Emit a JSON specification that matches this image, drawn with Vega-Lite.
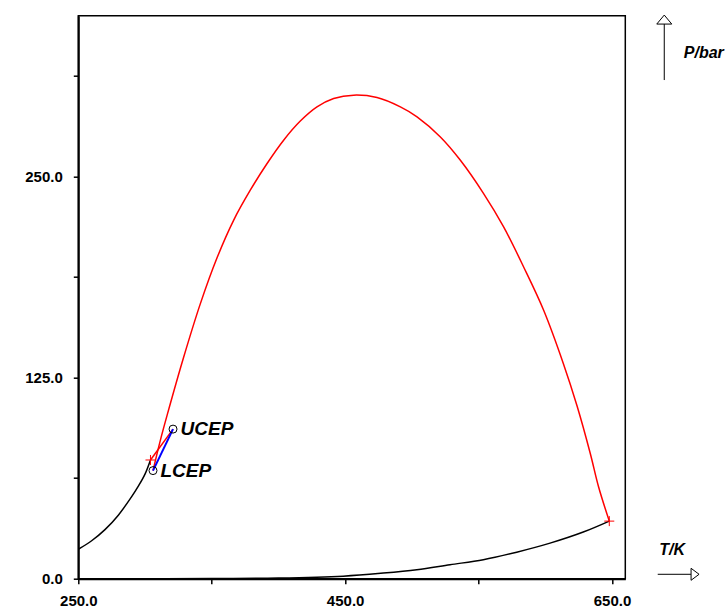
{
  "$schema": "https://vega.github.io/schema/vega-lite/v6.json",
  "width": 547,
  "height": 563,
  "autosize": {"type": "none"},
  "padding": {"left": 78.3, "top": 15.7, "right": 100.7, "bottom": 33.3},
  "background": "white",
  "config": {
    "view": {"stroke": "black", "strokeWidth": 1.5},
    "font": "Liberation Sans",
    "axis": {
      "grid": false,
      "domainColor": "black",
      "domainWidth": 2,
      "tickColor": "black",
      "tickWidth": 1.5,
      "tickSize": 5,
      "labelFont": "Liberation Sans",
      "labelFontSize": 15,
      "labelFontWeight": "bold",
      "labelColor": "black",
      "labelOverlap": false,
      "labelFlush": false,
      "titleFont": "Liberation Sans",
      "titleFontSize": 16,
      "titleFontWeight": "bold",
      "titleFontStyle": "italic",
      "titleColor": "black"
    }
  },
  "datasets": {
    "curves": [
      {"series": "vapour pressure 1", "T": 250, "P": 18.3},
      {"series": "vapour pressure 1", "T": 260, "P": 23.6},
      {"series": "vapour pressure 1", "T": 270, "P": 30.5},
      {"series": "vapour pressure 1", "T": 280, "P": 39.5},
      {"series": "vapour pressure 1", "T": 290, "P": 51.0},
      {"series": "vapour pressure 1", "T": 295, "P": 57.5},
      {"series": "vapour pressure 1", "T": 300, "P": 65.0},
      {"series": "vapour pressure 1", "T": 304.1, "P": 73.8},
      {"series": "vapour pressure 2", "T": 250, "P": 0.0},
      {"series": "vapour pressure 2", "T": 300, "P": 0.01},
      {"series": "vapour pressure 2", "T": 350, "P": 0.07},
      {"series": "vapour pressure 2", "T": 400, "P": 0.4},
      {"series": "vapour pressure 2", "T": 448.6, "P": 1.6},
      {"series": "vapour pressure 2", "T": 478.6, "P": 3.5},
      {"series": "vapour pressure 2", "T": 503.7, "P": 5.6},
      {"series": "vapour pressure 2", "T": 528.6, "P": 8.7},
      {"series": "vapour pressure 2", "T": 553.6, "P": 11.8},
      {"series": "vapour pressure 2", "T": 578.6, "P": 16.5},
      {"series": "vapour pressure 2", "T": 603.6, "P": 22.1},
      {"series": "vapour pressure 2", "T": 628.5, "P": 29.0},
      {"series": "vapour pressure 2", "T": 648.0, "P": 35.8},
      {"series": "critical line 2", "T": 306.0, "P": 67.2},
      {"series": "critical line 2", "T": 311.5, "P": 86.0},
      {"series": "critical line 2", "T": 316.9, "P": 102.6},
      {"series": "critical line 2", "T": 328.9, "P": 137.5},
      {"series": "critical line 2", "T": 341.5, "P": 171.0},
      {"series": "critical line 2", "T": 354.0, "P": 199.5},
      {"series": "critical line 2", "T": 366.4, "P": 222.8},
      {"series": "critical line 2", "T": 378.9, "P": 241.5},
      {"series": "critical line 2", "T": 391.5, "P": 258.1},
      {"series": "critical line 2", "T": 403.9, "P": 272.6},
      {"series": "critical line 2", "T": 416.4, "P": 284.5},
      {"series": "critical line 2", "T": 428.9, "P": 293.3},
      {"series": "critical line 2", "T": 441.4, "P": 298.5},
      {"series": "critical line 2", "T": 456.4, "P": 300.6},
      {"series": "critical line 2", "T": 473.9, "P": 299.1},
      {"series": "critical line 2", "T": 491.4, "P": 293.3},
      {"series": "critical line 2", "T": 503.9, "P": 287.1},
      {"series": "critical line 2", "T": 521.4, "P": 274.6},
      {"series": "critical line 2", "T": 536.4, "P": 260.1},
      {"series": "critical line 2", "T": 553.8, "P": 239.4},
      {"series": "critical line 2", "T": 568.8, "P": 218.7},
      {"series": "critical line 2", "T": 583.8, "P": 193.8},
      {"series": "critical line 2", "T": 598.8, "P": 166.9},
      {"series": "critical line 2", "T": 613.6, "P": 133.7},
      {"series": "critical line 2", "T": 623.8, "P": 107.5},
      {"series": "critical line 2", "T": 633.8, "P": 77.7},
      {"series": "critical line 2", "T": 640.0, "P": 57.0},
      {"series": "critical line 2", "T": 648.0, "P": 35.8},
      {"series": "critical line 1", "T": 304.1, "P": 73.8},
      {"series": "critical line 1", "T": 321.0, "P": 93.0},
      {"series": "three-phase line", "T": 306.0, "P": 67.2},
      {"series": "three-phase line", "T": 321.0, "P": 93.0}
    ],
    "points": [
      {"type": "critical point", "T": 304.1, "P": 73.8, "label": ""},
      {"type": "critical point", "T": 648.0, "P": 35.8, "label": ""},
      {"type": "end point", "T": 321.0, "P": 93.0, "label": "UCEP"},
      {"type": "end point", "T": 306.0, "P": 67.2, "label": "LCEP"}
    ],
    "arrows": [
      {"dir": "up", "T": 689.2, "P": 310.0, "T2": 689.2, "P2": 344.8},
      {"dir": "right", "T": 684.3, "P": 2.74, "T2": 709.3, "P2": 2.74}
    ]
  },
  "encoding": {
    "x": {
      "field": "T",
      "type": "quantitative",
      "scale": {"domain": [250, 660], "nice": false, "zero": false},
      "axis": {
        "values": [250, 350, 450, 550, 650],
        "labelExpr": "datum.value % 200 == 50 ? format(datum.value, '.1f') : ''",
        "labelPadding": 10,
        "title": "T/K",
        "titleAngle": 0,
        "titleAlign": "left",
        "titleBaseline": "middle",
        "titleX": 580.4,
        "titleY": -29.5
      }
    },
    "y": {
      "field": "P",
      "type": "quantitative",
      "scale": {"domain": [0, 350], "nice": false, "zero": false},
      "axis": {
        "values": [0, 62.5, 125, 187.5, 250, 312.5],
        "labelExpr": "datum.value % 125 == 0 ? format(datum.value, '.1f') : ''",
        "labelPadding": 11,
        "title": "P/bar",
        "titleAngle": 0,
        "titleAlign": "left",
        "titleBaseline": "middle",
        "titleX": 605,
        "titleY": 36.8
      }
    }
  },
  "layer": [
    {
      "data": {"name": "curves"},
      "transform": [{"filter": "datum.series != 'three-phase line' && datum.series != 'critical line 1'"}],
      "mark": {"type": "line", "strokeWidth": 1.5, "interpolate": "catmull-rom"},
      "encoding": {
        "color": {
          "field": "series",
          "type": "nominal",
          "scale": {
            "domain": ["vapour pressure 1", "vapour pressure 2", "critical line 1", "critical line 2", "three-phase line"],
            "range": ["#000000", "#000000", "#ff0000", "#ff0000", "#0000ff"]
          },
          "legend": null
        }
      }
    },
    {
      "data": {"name": "curves"},
      "transform": [{"filter": "datum.series == 'critical line 1'"}],
      "mark": {"type": "line", "strokeWidth": 1.5},
      "encoding": {
        "color": {"field": "series", "type": "nominal", "legend": null}
      }
    },
    {
      "data": {"name": "curves"},
      "transform": [{"filter": "datum.series == 'three-phase line'"}],
      "mark": {"type": "line", "strokeWidth": 2},
      "encoding": {
        "color": {"field": "series", "type": "nominal", "legend": null}
      }
    },
    {
      "data": {"name": "points"},
      "transform": [{"filter": "datum.type == 'critical point'"}],
      "mark": {"type": "point", "shape": "M-1,0L1,0M0,-1L0,1", "size": 100, "filled": false, "stroke": "#ff0000", "strokeWidth": 1, "opacity": 1}
    },
    {
      "data": {"name": "points"},
      "transform": [{"filter": "datum.type == 'end point'"}],
      "mark": {"type": "point", "shape": "circle", "size": 64, "filled": false, "stroke": "#000000", "strokeWidth": 1, "opacity": 1}
    },
    {
      "data": {"name": "points"},
      "transform": [{"filter": "datum.type == 'end point'"}],
      "mark": {"type": "text", "align": "left", "baseline": "middle", "dx": 7.5, "font": "Liberation Sans", "fontSize": 19, "fontWeight": "bold", "fontStyle": "italic", "color": "#000000"},
      "encoding": {"text": {"field": "label"}}
    },
    {
      "data": {"name": "arrows"},
      "mark": {"type": "rule", "color": "#000000", "strokeWidth": 1, "clip": false},
      "encoding": {"x2": {"field": "T2"}, "y2": {"field": "P2"}}
    },
    {
      "data": {"name": "arrows"},
      "transform": [{"filter": "datum.dir == 'up'"}],
      "mark": {"type": "point", "shape": "M-1,0L0,-1.2L1,0Z", "size": 225, "filled": true, "fill": "#ffffff", "stroke": "#000000", "strokeWidth": 1, "opacity": 1, "clip": false},
      "encoding": {"x": {"field": "T2", "type": "quantitative"}, "y": {"field": "P2", "type": "quantitative"}}
    },
    {
      "data": {"name": "arrows"},
      "transform": [{"filter": "datum.dir == 'right'"}],
      "mark": {"type": "point", "shape": "M0,-1L1.333,0L0,1Z", "size": 144, "filled": true, "fill": "#ffffff", "stroke": "#000000", "strokeWidth": 1, "opacity": 1, "clip": false},
      "encoding": {"x": {"field": "T2", "type": "quantitative"}, "y": {"field": "P2", "type": "quantitative"}}
    }
  ]
}
